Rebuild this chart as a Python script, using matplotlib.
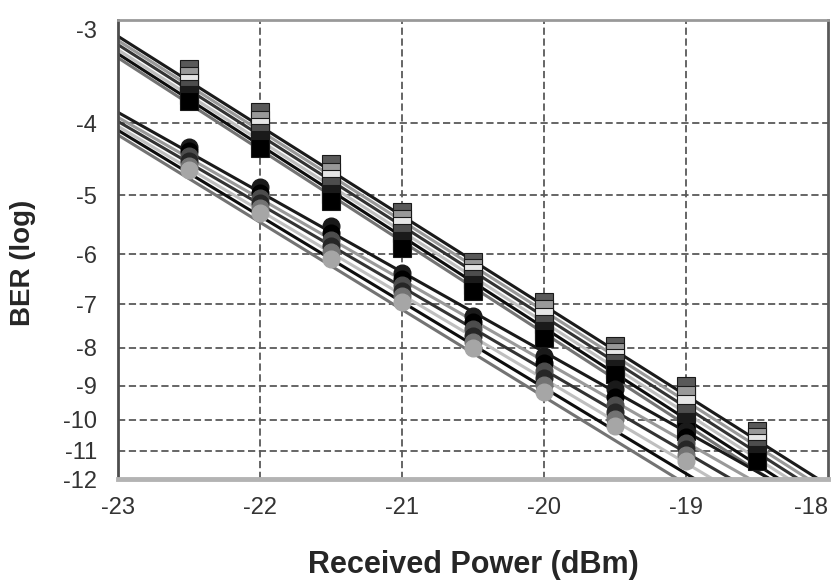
import numpy as np
import matplotlib
matplotlib.use('Agg')
import matplotlib.pyplot as plt

plt.rcParams['font.family'] = ['Liberation Sans', 'DejaVu Sans']

# --- data (log10 BER) ---
power_sq = [-22.5, -22, -21.5, -21, -20.5, -20, -19.5, -19, -18.5]
ber_sq_1 = [-3.39, -3.87, -4.54, -5.26, -6.14, -6.95, -7.96, -9.01, -10.35]
ber_sq_2 = [-3.46, -3.96, -4.65, -5.38, -6.25, -7.11, -8.10, -9.27, -10.54]
ber_sq_3 = [-3.53, -4.05, -4.75, -5.50, -6.36, -7.27, -8.25, -9.53, -10.74]
ber_sq_4 = [-3.60, -4.13, -4.86, -5.62, -6.48, -7.43, -8.39, -9.80, -10.94]
ber_sq_5 = [-3.67, -4.22, -4.98, -5.75, -6.60, -7.59, -8.54, -10.07, -11.14]
ber_sq_6 = [-3.74, -4.32, -5.09, -5.88, -6.72, -7.77, -8.68, -10.35, -11.36]

power_ci = [-22.5, -22, -21.5, -21, -20.5, -20, -19.5, -19]
ber_ci_1 = [-4.30, -4.88, -5.50, -6.35, -7.25, -8.20, -9.10, -10.35]
ber_ci_2 = [-4.36, -4.96, -5.62, -6.47, -7.40, -8.40, -9.32, -10.55]
ber_ci_3 = [-4.43, -5.04, -5.73, -6.59, -7.56, -8.59, -9.54, -10.75]
ber_ci_4 = [-4.49, -5.12, -5.85, -6.71, -7.71, -8.79, -9.76, -10.95]
ber_ci_5 = [-4.56, -5.20, -5.96, -6.83, -7.87, -8.98, -9.98, -11.15]
ber_ci_6 = [-4.62, -5.28, -6.08, -6.95, -8.02, -9.18, -10.20, -11.35]

# fitted lines, value at -23 dBm and at -18 dBm
fit_power = [-23, -18]
fit_sq = [(-3.06, -12.23), (-3.10, -12.47), (-3.14, -12.72),
          (-3.19, -12.96), (-3.23, -13.22), (-3.27, -13.48)]
fit_ci = [(-3.87, -13.27), (-3.93, -13.77), (-3.98, -14.28),
          (-4.04, -14.82), (-4.09, -15.38), (-4.15, -15.96)]

x_ticks = [-23, -22, -21, -20, -19, -18]
y_ticks = [-3, -4, -5, -6, -7, -8, -9, -10, -11, -12]
x_grid = [-22, -21, -20, -19]
y_grid = [-4, -5, -6, -7, -8, -9, -10, -11]

sq_series = [ber_sq_1, ber_sq_2, ber_sq_3, ber_sq_4, ber_sq_5, ber_sq_6]
ci_series = [ber_ci_1, ber_ci_2, ber_ci_3, ber_ci_4, ber_ci_5, ber_ci_6]


def fwd(y):
    # BER paper scale: -log(-log BER)
    return -np.log10(np.clip(-np.asarray(y, dtype=float), 1e-6, None))


def inv(v):
    return -10.0 ** (-np.asarray(v, dtype=float))


fig, ax = plt.subplots(figsize=(8.37, 5.81), dpi=100)
fig.subplots_adjust(left=118 / 837, right=828 / 837, top=1 - 20 / 581, bottom=1 - 479 / 581)

ax.set_yscale('function', functions=(fwd, inv))

# grid drawn by hand (no line at -3)
for gx in x_grid:
    ax.axvline(gx, color='0.35', linestyle=(0, (4, 2)), linewidth=1.3, zorder=1)
for gy in y_grid:
    ax.axhline(gy, color='0.35', linestyle=(0, (4, 2)), linewidth=1.3, zorder=1)

line_colors = ['0.1', '0.6', '0.2', '0.75', '0.05', '0.45']
for i, (a, b) in enumerate(fit_sq):
    ax.plot(fit_power, [a, b], color=line_colors[i], linewidth=2.2, zorder=2)
for i, (a, b) in enumerate(fit_ci):
    ax.plot(fit_power, [a, b], color=line_colors[i], linewidth=2.2, zorder=2)

sq_colors = ['0.35', '0.6', '0.9', '0.3', '0.1', '0.0']
for i, vals in enumerate(sq_series):
    ax.plot(power_sq, vals, linestyle='none', marker='s', markersize=12.5,
            markerfacecolor=sq_colors[i], markeredgecolor='0.1', markeredgewidth=0.8, zorder=3)

ci_colors = ['0.1', '0.0', '0.3', '0.15', '0.45', '0.65']
for i, vals in enumerate(ci_series):
    ax.plot(power_ci, vals, linestyle='none', marker='o', markersize=12,
            markerfacecolor=ci_colors[i], markeredgecolor=ci_colors[i], zorder=3)

ax.set_xlim(-23, -18)
ax.set_ylim(-12, -2.91)
ax.set_xticks(x_ticks)
ax.set_xticklabels([str(v) for v in x_ticks])
ax.set_yticks(y_ticks)
ax.set_yticklabels([str(v) for v in y_ticks])
ax.minorticks_off()
ax.tick_params(axis='both', length=0, labelsize=17, labelcolor='0.2')
ax.tick_params(axis='y', pad=15)
ax.tick_params(axis='x', pad=13)
# last x label sits left of its tick, as in the original
ax.get_xticklabels()[-1].set_horizontalalignment('right')

ax.spines['left'].set_color('0.3')
ax.spines['left'].set_linewidth(2)
ax.spines['right'].set_color('0.35')
ax.spines['right'].set_linewidth(2)
ax.spines['top'].set_color('0.6')
ax.spines['top'].set_linewidth(2)
ax.spines['bottom'].set_color('0.7')
ax.spines['bottom'].set_linewidth(3.5)

fig.text(23 / 837, 1 - 263 / 581, 'BER (log)', rotation=90, ha='center', va='center',
         fontsize=20, fontweight='bold', color='0.15')
fig.text(473 / 837, 1 - 573 / 581, 'Received Power (dBm)', ha='center', va='baseline',
         fontsize=22, fontweight='bold', color='0.15')

plt.savefig('out.png', dpi=100)
plt.close(fig)
